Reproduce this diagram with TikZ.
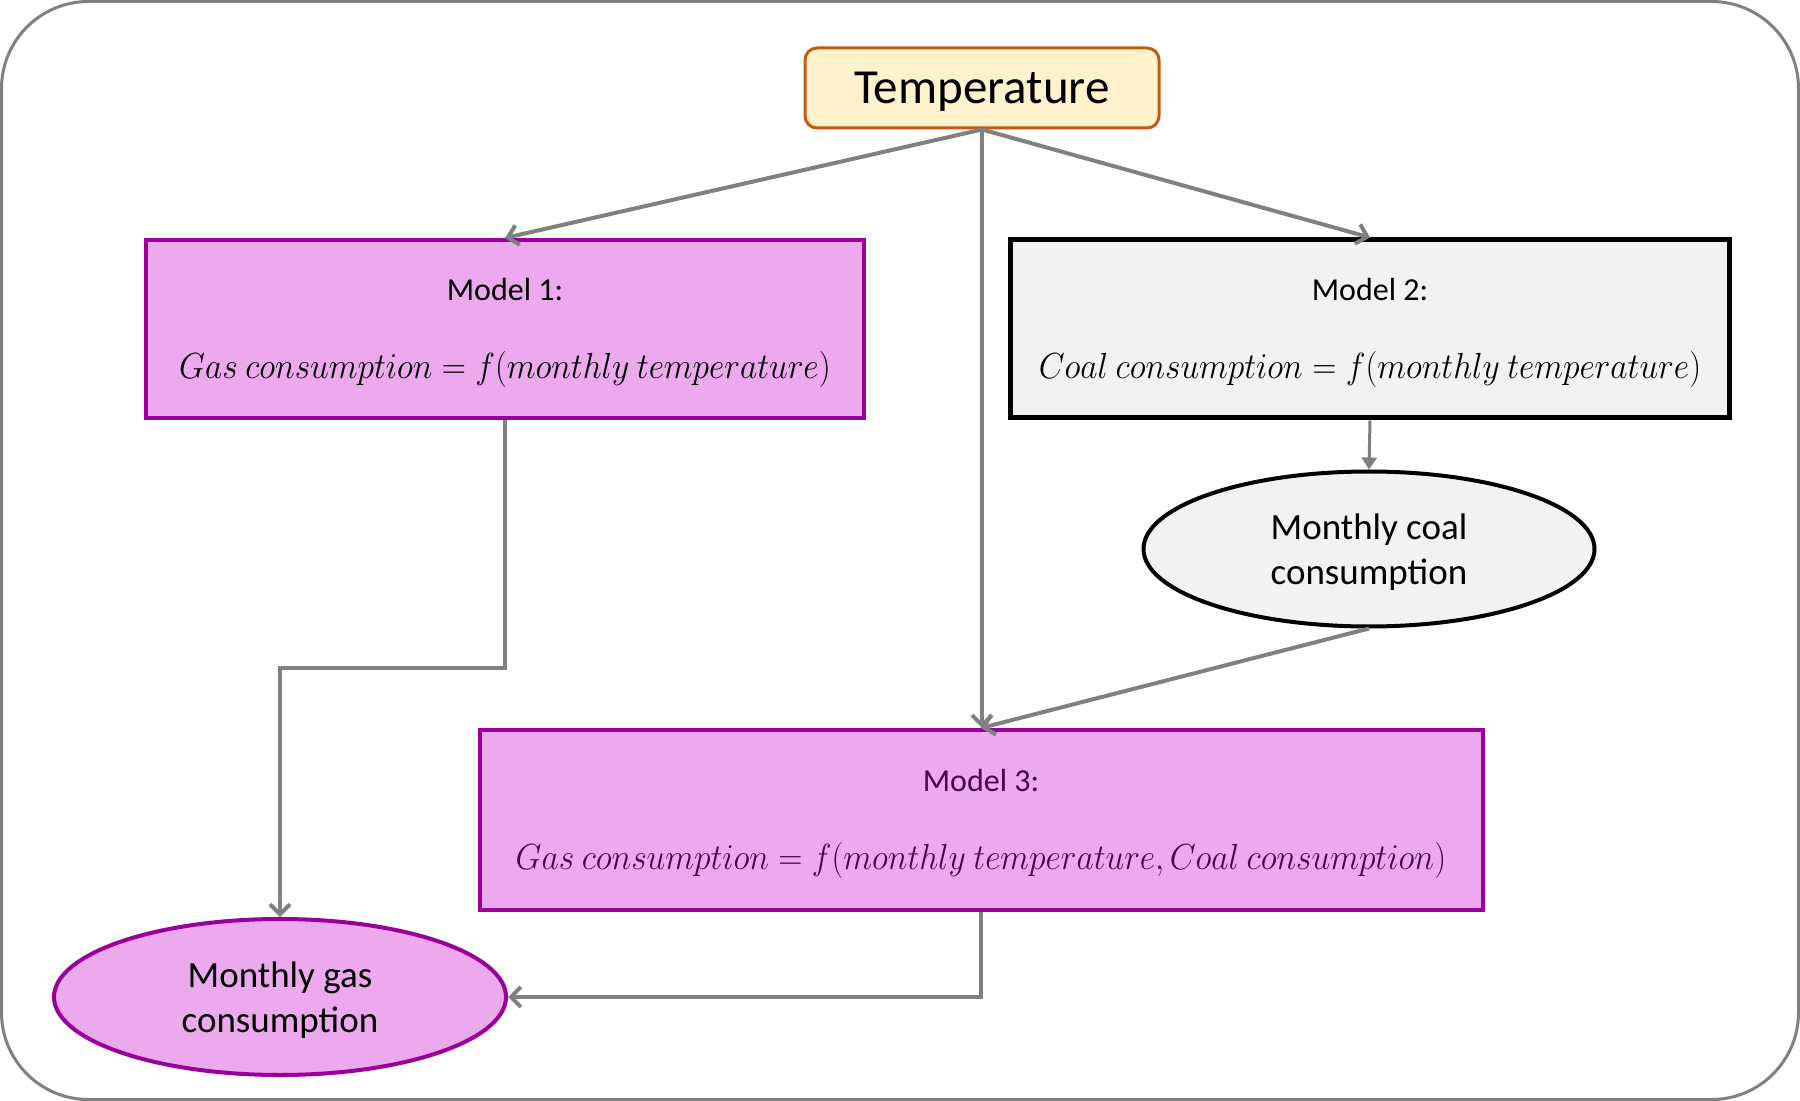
\documentclass[tikz,border=0pt]{standalone}
\usepackage[no-math]{fontspec}
\setmainfont{Carlito}
\usetikzlibrary{arrows.meta,shapes.geometric,calc}
\definecolor{pinkfill}{HTML}{EDA9ED}
\definecolor{purpleline}{HTML}{990099}
\definecolor{darkpurple}{HTML}{4C004C}
\definecolor{tempfill}{HTML}{FFF2CC}
\definecolor{templine}{HTML}{C55A11}
\definecolor{greyfill}{HTML}{F2F2F2}
\definecolor{arrowgrey}{HTML}{808080}
\newcommand{\labfont}{\fontsize{16}{19.2}\selectfont\rule{0pt}{15pt}}
\newcommand{\eqtext}[1]{\fontsize{17.28}{20.7}\selectfont\scalebox{0.97}[1.05]{$#1$}}
\begin{document}
\begin{tikzpicture}[x=0.5pt,y=-0.5pt,
  modelbox/.style={draw, rectangle, inner sep=0pt, align=center, line width=2pt},
  pinkbox/.style={modelbox, fill=pinkfill, draw=purpleline},
  greybox/.style={modelbox, fill=greyfill, draw=black, line width=2.5pt},
  oval/.style={ellipse, inner sep=0pt, align=center, line width=2pt,
    font=\fontsize{18.5}{22.5}\selectfont},
  conn/.style={draw=arrowgrey, line width=2pt, -{Straight Barb[length=5pt,width=10pt,line width=2pt]}},
  smallconn/.style={draw=arrowgrey, line width=1.5pt, -{Triangle[length=6pt,width=7.5pt]}}
]
\useasboundingbox (0,0) rectangle (1800,1101);
\draw[arrowgrey, line width=1.5pt, rounded corners=43.5pt] (1.5,1.5) rectangle (1798.5,1099.5);

\node[draw=templine, fill=tempfill, line width=1.5pt, rounded corners=6pt,
  minimum width=177pt, minimum height=40pt, inner sep=0pt, text depth=0pt,
  font=\fontsize{24.5}{29}\selectfont] (temp) at (982,88) {Temperature};

\node[pinkbox, minimum width=359pt, minimum height=89pt] (m1) at (505,329)
  {\labfont Model 1:\\[24.7pt]\eqtext{Gas\ consumption=f(monthly\ temperature)}};

\node[greybox, minimum width=359.5pt, minimum height=89pt] (m2) at (1370,329)
  {\labfont Model 2:\\[24.7pt]\eqtext{Coal\ consumption=f(monthly\ temperature)}};

\node[oval, draw=black, fill=greyfill, minimum width=225.5pt, minimum height=77.5pt]
  (coal) at (1369,549) {\rule{0pt}{16pt}Monthly coal\\consumption};

\node[pinkbox, text=darkpurple, minimum width=501.5pt, minimum height=90pt] (m3) at (981,820)
  {\labfont Model 3:\\[24.7pt]\eqtext{Gas\ consumption=f(monthly\ temperature,Coal\ consumption)}};

\node[oval, draw=purpleline, fill=pinkfill, minimum width=226pt, minimum height=78pt]
  (gas) at (280,997) {\rule{0pt}{16pt}Monthly gas\\consumption};

\draw[conn] (temp.south) -- (m1.north);
\draw[conn] (temp.south) -- (m2.north);
\draw[conn] (temp.south) -- (temp.south |- m3.north);
\draw[smallconn] (m2.south) -- (coal.north);
\draw[conn] (coal.south) -- (m3.north);
\draw[conn] (m1.south) -- (m1.south |- 0,668) -| (gas.north);
\draw[conn] (m3.south) |- (gas.east);
\end{tikzpicture}
\end{document}
